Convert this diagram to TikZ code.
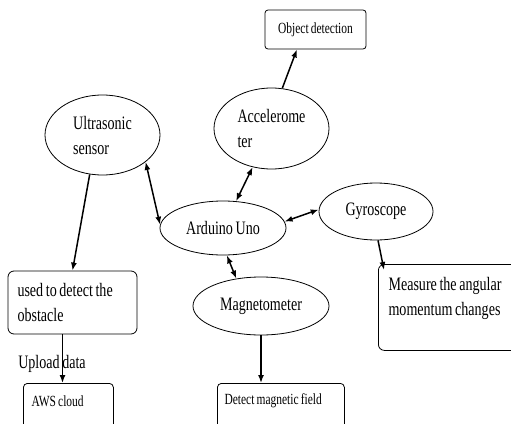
\documentclass[tikz,border=0pt]{standalone}
\usepackage{xcolor}
\usepackage{fontspec}
\setmainfont{Liberation Serif}[FakeStretch=0.74, WordSpace=0.74]
\usepackage{tikz}
\usetikzlibrary{shapes.geometric,arrows.meta,calc}

\begin{document}
\begin{tikzpicture}[x=1pt, y=-1pt,
    bubble/.style={ellipse, draw, line width=0.8pt, inner sep=0pt, align=left, font=\fontsize{19}{25}\selectfont},
    tag/.style={rectangle, draw, line width=0.8pt, rounded corners=6pt},
    small/.style={font=\fontsize{15.5}{17}\selectfont},
    big/.style={font=\fontsize{19}{25}\selectfont},
    link/.style={line width=1.5pt},
    >={Latex[length=8pt,width=6pt]}]
            % Khung hình
            \useasboundingbox (0,0) rectangle (511,423);

            % Các cảm biến (hình elip)
            \node[bubble, minimum width=115pt, minimum height=80pt] (ult) at (102.5,135) {Ultrasonic\\sensor};
            \node[bubble, minimum width=115pt, minimum height=81pt] (acc) at (271.5,128.5) {Accelerome\\ter};
            \node[bubble, minimum width=126pt, minimum height=54pt] (ard) at (223,228) {Arduino Uno};
            \node[bubble, minimum width=114pt, minimum height=57pt] (gyr) at (376,211.5) {Gyroscope};
            \node[bubble, minimum width=136pt, minimum height=58pt] (mag) at (261,306) {Magnetometer};

            % Các hộp kết quả
            \node[tag, small, rounded corners=3pt, minimum width=101pt, minimum height=39pt] (obj) at (315.5,29.5) {Object detection};
            \node[tag, big, text width=110pt, inner xsep=9.5pt, align=flush left, minimum height=63pt] (used) at (72.5,302.5) {used to detect the\\obstacle};
            \node[tag, anchor=north west, minimum width=150pt, minimum height=86pt] (mbox) at (378,264) {};
            \node[tag, rounded corners=4pt, anchor=north west, minimum width=90pt, minimum height=50pt] (aws) at (23,383) {};
            \node[tag, rounded corners=4pt, anchor=north west, minimum width=127pt, minimum height=50pt] (det) at (217,383) {};

            % Chữ trong các hộp hở
            \node[big, anchor=west, align=left] (mtext) at ($(mbox.north west)+(7,34)$) {Measure the angular\\momentum changes};
            \node[small, anchor=west] (awstext) at ($(aws.north west)+(5,18)$) {AWS cloud};
            \node[small, anchor=west] (dettext) at ($(det.north west)+(4,18)$) {Detect magnetic field};

            % Mũi tên nối
            \draw[link, ->] (acc.75) -- (obj.-133.5);
            \draw[link, <->] (ard.64) -- (acc.-116);
            \draw[link, <->] (ult.-32) -- (ard.177);
            \draw[link, ->] (ult.-108) -- (used.north);
            \draw[link, <->] (ard.6) -- (gyr.178);
            \draw[link, ->] (gyr.-86) -- ($(mbox.north west)+(6,6)$);
            \draw[link, <->] (ard.-82) -- (mag.132);
            \draw[link, ->] (mag.south) -- (mag.south |- det.north);

            % Tải dữ liệu lên đám mây
            \coordinate (up) at ($(used.south)+(-10,0)$);
            \draw[link, ->] (up) -- node[big, pos=0.6, xshift=-10.5pt] (upl) {Upload data} (up |- aws.north);
        \end{tikzpicture}
\end{document}
